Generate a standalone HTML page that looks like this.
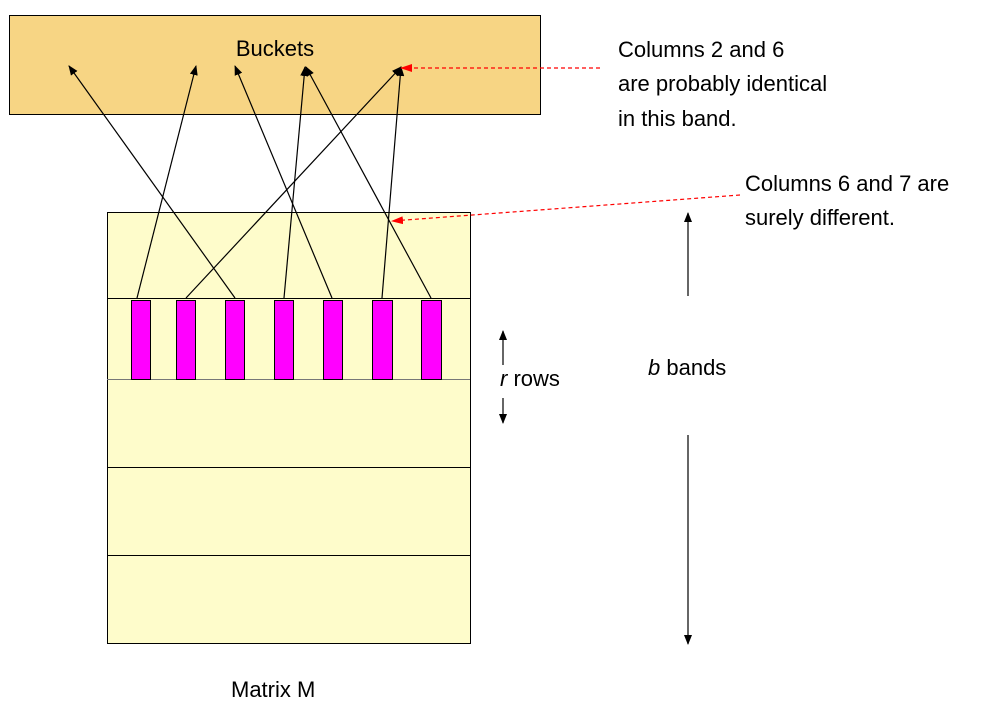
<!DOCTYPE html>
<html><head><style>
body{margin:0;background:#fff;}
svg text{font-family:"Liberation Sans",sans-serif;fill:#000;}
</style></head><body>
<svg width="998" height="709" xmlns="http://www.w3.org/2000/svg">
<defs>
<marker id="a" markerWidth="10" markerHeight="8" refX="9" refY="4" orient="auto" markerUnits="userSpaceOnUse"><path d="M0,0 L10,4 L0,8z" fill="#000"/></marker>
<marker id="r" markerWidth="12" markerHeight="8" refX="11" refY="4" orient="auto" markerUnits="userSpaceOnUse"><path d="M0,0 L12,4 L0,8z" fill="#f00"/></marker>
</defs>
<rect x="9.5" y="15.5" width="531" height="99" fill="#f7d584" stroke="#000"/>
<text x="275" y="56" font-size="22" text-anchor="middle">Buckets</text>
<rect x="107.5" y="212.5" width="363" height="431" fill="#fefccb" stroke="#000"/>
<line x1="107" y1="298.5" x2="470" y2="298.5" stroke="#000"/>
<line x1="107" y1="379.5" x2="470" y2="379.5" stroke="#777"/>
<line x1="107" y1="467.5" x2="470" y2="467.5" stroke="#000"/>
<line x1="107" y1="555.5" x2="470" y2="555.5" stroke="#000"/>
<g fill="#f0f" stroke="#000">
<rect x="131.5" y="300.5" width="19" height="79"/>
<rect x="176.5" y="300.5" width="19" height="79"/>
<rect x="225.5" y="300.5" width="19" height="79"/>
<rect x="274.5" y="300.5" width="19" height="79"/>
<rect x="323.5" y="300.5" width="19" height="79"/>
<rect x="372.5" y="300.5" width="20" height="79"/>
<rect x="421.5" y="300.5" width="20" height="79"/>
</g>
<g stroke="#000" stroke-width="1.2" marker-end="url(#a)">
<line x1="137" y1="298" x2="196" y2="66"/>
<line x1="186" y1="298" x2="401" y2="67"/>
<line x1="235" y1="298" x2="69" y2="66"/>
<line x1="284" y1="298" x2="305" y2="67"/>
<line x1="332" y1="298" x2="235" y2="66"/>
<line x1="382" y1="298" x2="401" y2="67"/>
<line x1="431" y1="298" x2="306" y2="67"/>
</g>
<g stroke="#f00" stroke-width="1.2" stroke-dasharray="4,3" marker-end="url(#r)">
<line x1="600" y1="68" x2="401" y2="68"/>
<line x1="740" y1="195" x2="392" y2="221"/>
</g>
<g font-size="22">
<text x="618" y="57">Columns 2 and 6</text>
<text x="618" y="91">are probably identical</text>
<text x="618" y="126">in this band.</text>
<text x="745" y="191">Columns 6 and 7 are</text>
<text x="745" y="225">surely different.</text>
<text x="500" y="386"><tspan font-style="italic">r</tspan>  rows</text>
<text x="648" y="375"><tspan font-style="italic">b</tspan>  bands</text>
<text x="231" y="697">Matrix M</text>
</g>
<g stroke="#000" stroke-width="1.2" marker-end="url(#a)">
<line x1="503" y1="365" x2="503" y2="331"/>
<line x1="503" y1="398" x2="503" y2="423"/>
<line x1="688" y1="296" x2="688" y2="213"/>
<line x1="688" y1="435" x2="688" y2="644"/>
</g>
</svg>
</body></html>
